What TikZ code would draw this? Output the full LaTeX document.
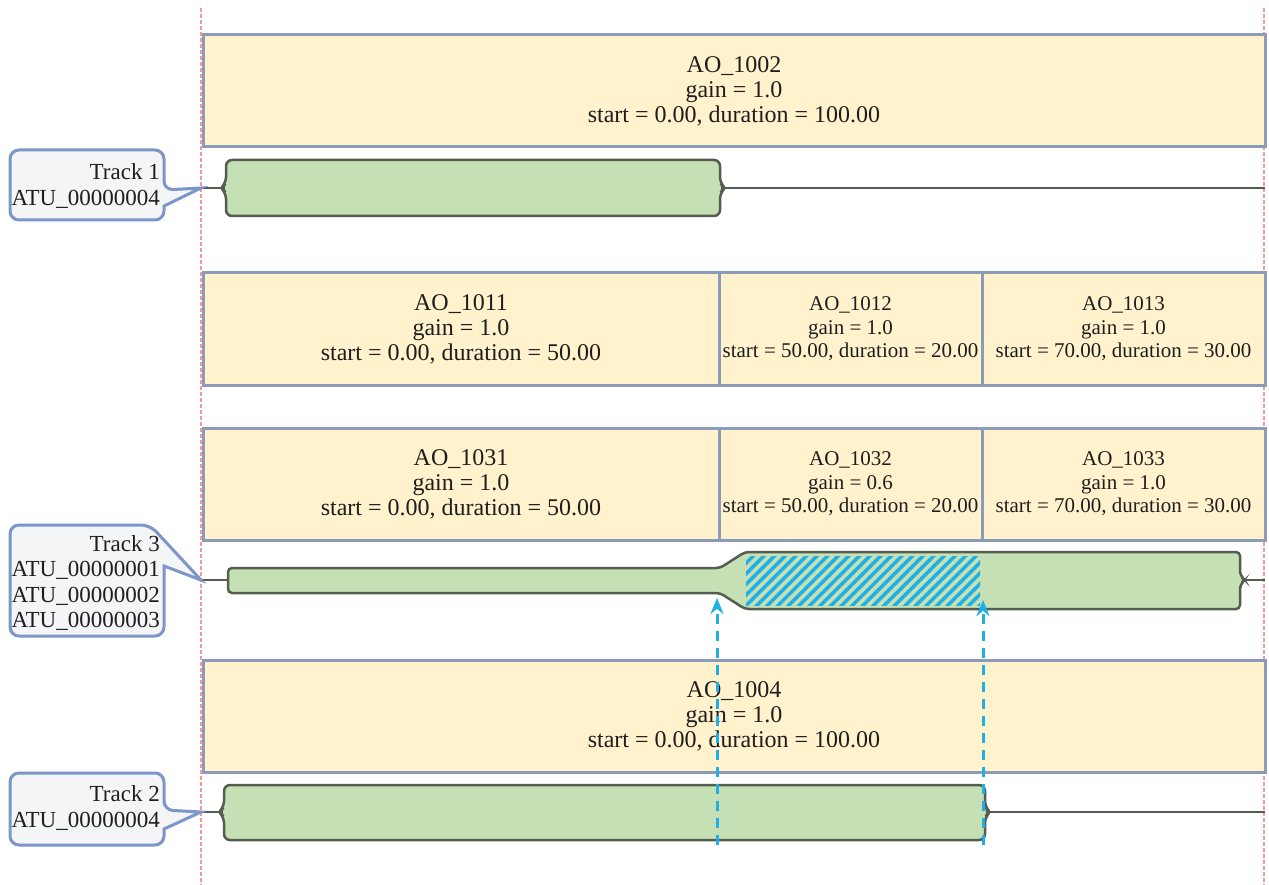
\documentclass[tikz,border=0pt]{standalone}
\usepackage{fontspec}
\setmainfont{Liberation Serif}
\usetikzlibrary{arrows, arrows.meta, patterns.meta}

\definecolor{aofill}{RGB}{255,242,204}
\definecolor{aoedge}{RGB}{140,155,185}
\definecolor{clipfill}{RGB}{197,224,180}
\definecolor{clipedge}{RGB}{85,92,80}
\definecolor{tagedge}{RGB}{125,150,200}
\definecolor{tagfill}{RGB}{244,245,247}
\definecolor{markred}{RGB}{245,150,160}
\definecolor{fadecyan}{RGB}{30,175,230}
\definecolor{txt}{RGB}{30,30,30}

\begin{document}
\begin{tikzpicture}[
            x = 1pt, y = -1pt, % pixel grid, origin top left
            text = txt,
            font = \fontsize{24}{25}\selectfont
        ]

        \tikzstyle{aobox}=[
            draw = aoedge,
            line width = 3pt,
            fill = aofill,
            align = center,
            inner sep = 2pt,
            minimum height = 112pt
        ]
        \tikzstyle{small}=[font = \fontsize{21}{23.5}\selectfont]
        \tikzstyle{trackline}=[draw = clipedge, line width = 2.5pt]
        \tikzstyle{clipshape}=[draw = clipedge, line width = 2.5pt, fill = clipfill, rounded corners = 6pt]
        \tikzstyle{tag}=[font = \fontsize{23}{25.3}\selectfont, align = right, inner sep = 0pt, anchor = east]
        \tikzstyle{tagline}=[draw = tagedge, line width = 3pt, fill = tagfill, rounded corners = 9pt]
        \tikzstyle{fade}=[draw = fadecyan, line width = 3pt, dash pattern = on 10pt off 7pt,
            -{Stealth[length = 16pt, width = 13pt, fill = fadecyan]}]
        \tikzstyle{marker}=[draw = markred, line width = 2pt, dash pattern = on 4pt off 2pt]

        \useasboundingbox (0,0) rectangle (1269,885);

        % time window
        \draw[marker] (201,8) -- (201,885);
        \draw[marker] (1264,8) -- (1264,885);

        % audio objects
        \node[aobox, minimum width = 1062pt] (ao1002) at (734,91) {AO\_1002\\gain = 1.0\\start = 0.00, duration = 100.00};

        \node[aobox, minimum width = 516pt] (ao1011) at (461,329) {AO\_1011\\gain = 1.0\\start = 0.00, duration = 50.00};
        \node[aobox, small, minimum width = 263pt] (ao1012) at (850.5,329) {AO\_1012\\gain = 1.0\\start = 50.00, duration = 20.00};
        \node[aobox, small, minimum width = 283pt] (ao1013) at (1123.5,329) {AO\_1013\\gain = 1.0\\start = 70.00, duration = 30.00};

        \node[aobox, minimum width = 516pt] (ao1031) at (461,484) {AO\_1031\\gain = 1.0\\start = 0.00, duration = 50.00};
        \node[aobox, small, minimum width = 263pt] (ao1032) at (850.5,484) {AO\_1032\\gain = 0.6\\start = 50.00, duration = 20.00};
        \node[aobox, small, minimum width = 283pt] (ao1033) at (1123.5,484) {AO\_1033\\gain = 1.0\\start = 70.00, duration = 30.00};

        \node[aobox, minimum width = 1062pt] (ao1004) at (734,716) {AO\_1004\\gain = 1.0\\start = 0.00, duration = 100.00};

        % tracks
        \coordinate (t1) at (201,188);
        \coordinate (e1) at (1265,188);
        \coordinate (t3) at (201,580);
        \coordinate (e3) at (1265,580);
        \coordinate (t2) at (201,812);
        \coordinate (e2) at (1265,812);

        \draw[trackline] (t1) -- (e1);
        \draw[trackline] (t3) -- (e3);
        \draw[trackline] (t2) -- (e2);

        \draw[clipshape] (226,160) -- (720,160) -- (720,183) -- (725,188) -- (720,193) -- (720,216)
            -- (226,216) -- (226,193) -- (221,188) -- (226,183) -- cycle;
        \draw[clipshape, rounded corners = 4pt] (228,568) -- (720,568) -- (745,552) -- (1240,552) -- (1240,575)
            -- (1245,580) -- (1240,585) -- (1240,609) -- (745,609) -- (720,593) -- (228,593) -- cycle;
        \draw[clipshape] (224,785) -- (985,785) -- (985,807) -- (990,812) -- (985,817) -- (985,840)
            -- (224,840) -- (224,817) -- (219,812) -- (224,807) -- cycle;

        % faded part
        \fill[pattern = {Lines[angle = 45, distance = 7.5pt, line width = 3.5pt]}, pattern color = fadecyan]
            (746,556) rectangle (980,605);

        % track labels
        \draw[tagline] (10,150) -- (164,150) -- (164,190) [sharp corners] -- (t1) -- (164,206)
            [rounded corners = 9pt] -- (164,220) -- (10,220) -- cycle;
        \node[tag] (lab1) at (160,186) {Track 1\\ATU\_00000004};

        \draw[tagline] (10,525) -- (150,525) [sharp corners] -- (t3) -- (164,566)
            [rounded corners = 9pt] -- (164,636) -- (10,636) -- cycle;
        \node[tag] (lab3) at (160,583) {Track 3\\ATU\_00000001\\ATU\_00000002\\ATU\_00000003};

        \draw[tagline] (10,773) -- (164,773) -- (164,810) [sharp corners] -- (t2) -- (164,829)
            [rounded corners = 9pt] -- (164,845) -- (10,845) -- cycle;
        \node[tag] (lab2) at (160,808) {Track 2\\ATU\_00000004};

        % fade markers
        \coordinate (f1) at (717,845);
        \coordinate (g1) at (717,598);
        \coordinate (f2) at (983,845);
        \coordinate (g2) at (983,600);
        \draw[fade] (f1) -- (g1);
        \draw[fade] (f2) -- (g2);

\end{tikzpicture}
\end{document}
